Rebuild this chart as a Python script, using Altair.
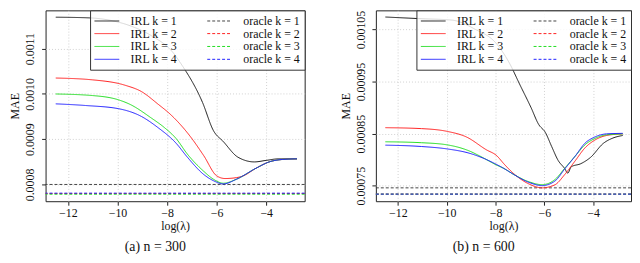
import altair as alt
import pandas as pd

SERIES = ["IRL k = 1", "IRL k = 2", "IRL k = 3", "IRL k = 4",
          "oracle k = 1", "oracle k = 2", "oracle k = 3", "oracle k = 4"]
COLORS = ["#1a1a1a", "#ff2020", "#22dd22", "#2020ff",
          "#444444", "#ff2020", "#22dd22", "#2020ff"]
DASHES = [[1, 0], [1, 0], [1, 0], [1, 0], [3, 2], [3, 2], [3, 2], [3, 2]]

# ---- panel (a) n = 300 ----
a_k1_x = [-12.49, -11.13, -10.22, -9.43, -8.63, -7.76, -7.45, -6.57, -6.13, -5.73, -5.14, -4.48, -4.01, -3.49, -2.76]
a_k1_y = [0.0011693, 0.0011678, 0.0011616, 0.0011492, 0.0011284, 0.0010911, 0.0010675, 0.0009811, 0.0009189,
          0.0008946, 0.0008602, 0.0008498, 0.0008531, 0.0008566, 0.0008566]
a_k2_x = [-12.49, -11.01, -9.69, -9.03, -8.37, -7.84, -7.05, -6.52, -5.99, -5.66, -5.20, -4.94, -4.41, -3.88, -3.35, -2.76]
a_k2_y = [0.001035, 0.001031, 0.001019, 0.001005, 0.0009776, 0.0009535, 0.000905, 0.0008635, 0.0008187,
          0.0008131, 0.0008151, 0.0008187, 0.0008359, 0.0008498, 0.0008552, 0.0008566]
a_k3_x = [-12.49, -11.01, -9.95, -9.50, -8.63, -8.11, -7.64, -7.18, -6.52, -6.13, -5.73, -5.20, -4.41, -3.88, -3.35, -2.76]
a_k3_y = [0.0009998, 0.0009963, 0.0009867, 0.000977, 0.0009465, 0.0009257, 0.0009017, 0.000867, 0.000829,
          0.0008116, 0.0008027, 0.0008116, 0.0008359, 0.0008498, 0.0008552, 0.0008566]
a_k4_x = [-12.49, -11.28, -9.95, -9.03, -8.37, -7.64, -7.18, -6.52, -6.13, -5.73, -5.20, -4.41, -3.88, -3.35, -2.76]
a_k4_y = [0.000978, 0.0009743, 0.0009672, 0.00095, 0.0009257, 0.0008913, 0.0008602, 0.000822, 0.0008083,
          0.0008012, 0.0008116, 0.0008359, 0.0008498, 0.0008552, 0.0008566]
a_oracle = [0.0008, 0.000780, 0.0007785, 0.0007808]

# ---- panel (b) n = 600 ----
b_k1_x = [-12.51, -11.16, -9.79, -8.86, -7.94, -7.41, -7.02, -6.55, -6.23, -5.96, -5.70, -5.43, -5.17, -5.04,
          -4.90, -4.51, -4.11, -3.58, -3.19, -2.79]
b_k1_y = [0.0010742, 0.0010712, 0.0010683, 0.0010513, 0.0010218, 0.0009838, 0.0009458, 0.0009006, 0.0008675,
          0.0008524, 0.0008252, 0.0007981, 0.0007831, 0.0007741, 0.0007862, 0.0007921, 0.0008042, 0.0008314,
          0.0008415, 0.0008464]
b_k2_x = [-12.51, -11.03, -9.97, -9.18, -8.39, -7.94, -7.66, -7.28, -6.62, -6.09, -5.56, -5.17, -4.73, -4.34,
          -3.94, -3.45, -2.79]
b_k2_y = [0.0008614, 0.0008596, 0.0008542, 0.0008433, 0.0008193, 0.0008071, 0.0007921, 0.0007741, 0.0007529,
          0.0007457, 0.0007518, 0.000771, 0.0007981, 0.0008223, 0.0008373, 0.0008464, 0.0008495]
b_k3_x = [-12.51, -11.03, -9.97, -9.05, -8.65, -7.94, -7.66, -7.28, -6.62, -6.09, -5.56, -5.17, -4.73, -4.34,
          -3.94, -3.45, -2.79]
b_k3_y = [0.0008343, 0.0008325, 0.0008283, 0.0008162, 0.0008071, 0.0007891, 0.0007831, 0.0007722, 0.0007572,
          0.0007518, 0.0007619, 0.0007831, 0.0008071, 0.0008283, 0.0008404, 0.0008477, 0.0008495]
b_k4_x = [-12.51, -11.03, -9.97, -9.05, -7.94, -7.66, -7.28, -6.62, -6.09, -5.56, -5.17, -4.73, -4.34, -3.94,
          -3.45, -2.79]
b_k4_y = [0.0008278, 0.0008252, 0.0008205, 0.000812, 0.0007903, 0.0007831, 0.0007722, 0.000756, 0.00075,
          0.000759, 0.0007818, 0.0008071, 0.0008314, 0.0008433, 0.0008495, 0.0008505]
b_oracle = [0.0007457, 0.0007337, 0.0007337, 0.0007337]

X_TICKS = [-12, -10, -8, -6, -4]
X_DOMAIN = [-12.9, -2.45]
A_Y_TICKS = [0.0008, 0.0009, 0.0010, 0.0011]
A_Y_DOMAIN = [0.000763, 0.0011844]
B_Y_TICKS = [0.00075, 0.0008, 0.00085, 0.0009, 0.00095, 0.001, 0.00105]
B_Y_DOMAIN = [0.00072, 0.001087]

FONT = "Liberation Serif, Times New Roman, DejaVu Serif, serif"


def build(curves, oracle):
    rows = []
    for k, (xs, ys) in enumerate(curves, start=1):
        for xv, yv in zip(xs, ys):
            rows.append({"series": f"IRL k = {k}", "x": xv, "y": yv})
    lines = pd.DataFrame(rows)
    orc = pd.DataFrame({"series": [f"oracle k = {k}" for k in range(1, 5)], "y": oracle})
    return lines, orc


def panel(curves, oracle, yticks, ydomain, yfmt, caption, width):
    lines, orc = build(curves, oracle)
    leg = alt.Legend(orient="top-right", offset=0, columns=2, title=None,
                     fillColor="rgba(255,255,255,0.82)", strokeColor="#333333",
                     padding=4, symbolType="M-1,0H3.1667", symbolSize=144, symbolStrokeWidth=1,
                     labelOffset=24, columnPadding=27, rowPadding=0,
                     labelFont=FONT, labelFontSize=12, labelColor="#111111", labelLimit=200)
    cscale = alt.Scale(domain=SERIES, range=COLORS)
    dscale = alt.Scale(domain=SERIES, range=DASHES)
    xenc = alt.X("x:Q", scale=alt.Scale(domain=X_DOMAIN, nice=False, zero=False),
                 axis=alt.Axis(values=X_TICKS, title="log(λ)", format="d"))
    yenc = alt.Y("y:Q", scale=alt.Scale(domain=ydomain, nice=False, zero=False),
                 axis=alt.Axis(values=yticks, title="MAE", labelExpr=yfmt))
    base_line = alt.Chart(lines).mark_line(strokeWidth=1, clip=True, interpolate="monotone").encode(
        x=xenc, y=yenc,
        color=alt.Color("series:N", scale=cscale, legend=leg),
        strokeDash=alt.StrokeDash("series:N", scale=dscale, legend=leg),
    )
    rules = alt.Chart(orc).mark_rule(strokeWidth=1).encode(
        y="y:Q",
        color=alt.Color("series:N", scale=cscale, legend=leg),
        strokeDash=alt.StrokeDash("series:N", scale=dscale, legend=leg),
    )
    return alt.layer(rules, base_line).properties(
        width=width, height=193,
        title=alt.Title(caption, orient="bottom", font=FONT, fontSize=14, fontWeight="normal",
                        color="#111111", offset=8, dx=-20),
    )


a = panel([(a_k1_x, a_k1_y), (a_k2_x, a_k2_y), (a_k3_x, a_k3_y), (a_k4_x, a_k4_y)], a_oracle,
          A_Y_TICKS, A_Y_DOMAIN, "format(datum.value, '.4f')", "(a) n = 300", 262)
b = panel([(b_k1_x, b_k1_y), (b_k2_x, b_k2_y), (b_k3_x, b_k3_y), (b_k4_x, b_k4_y)], b_oracle,
          B_Y_TICKS, B_Y_DOMAIN,
          "round(datum.value * 100000) % 2 == 1 ? format(datum.value, '.5f') : ''", "(b) n = 600", 258)

chart = alt.hconcat(a, b, spacing=33).resolve_scale(
    y="independent", color="independent", strokeDash="independent"
).resolve_legend(color="independent", strokeDash="independent").properties(
    padding=0
).configure_view(
    stroke="#222222", strokeWidth=1
).configure_axis(
    domain=False, grid=True, gridColor="#d0d0d0", gridDash=[1, 2], gridWidth=1,
    tickColor="#222222", tickSize=4, labelFont=FONT, labelFontSize=12, labelColor="#111111",
    titleFont=FONT, titleFontSize=12, titleFontWeight="normal", titleColor="#111111",
).configure_axisY(
    labelAngle=-90, labelAlign="center", labelBaseline="bottom", labelPadding=5, titlePadding=2,
).configure_axisX(
    labelPadding=2, titlePadding=3,
)

chart.save("out.html", embed_options={"renderer": "svg", "actions": False})
